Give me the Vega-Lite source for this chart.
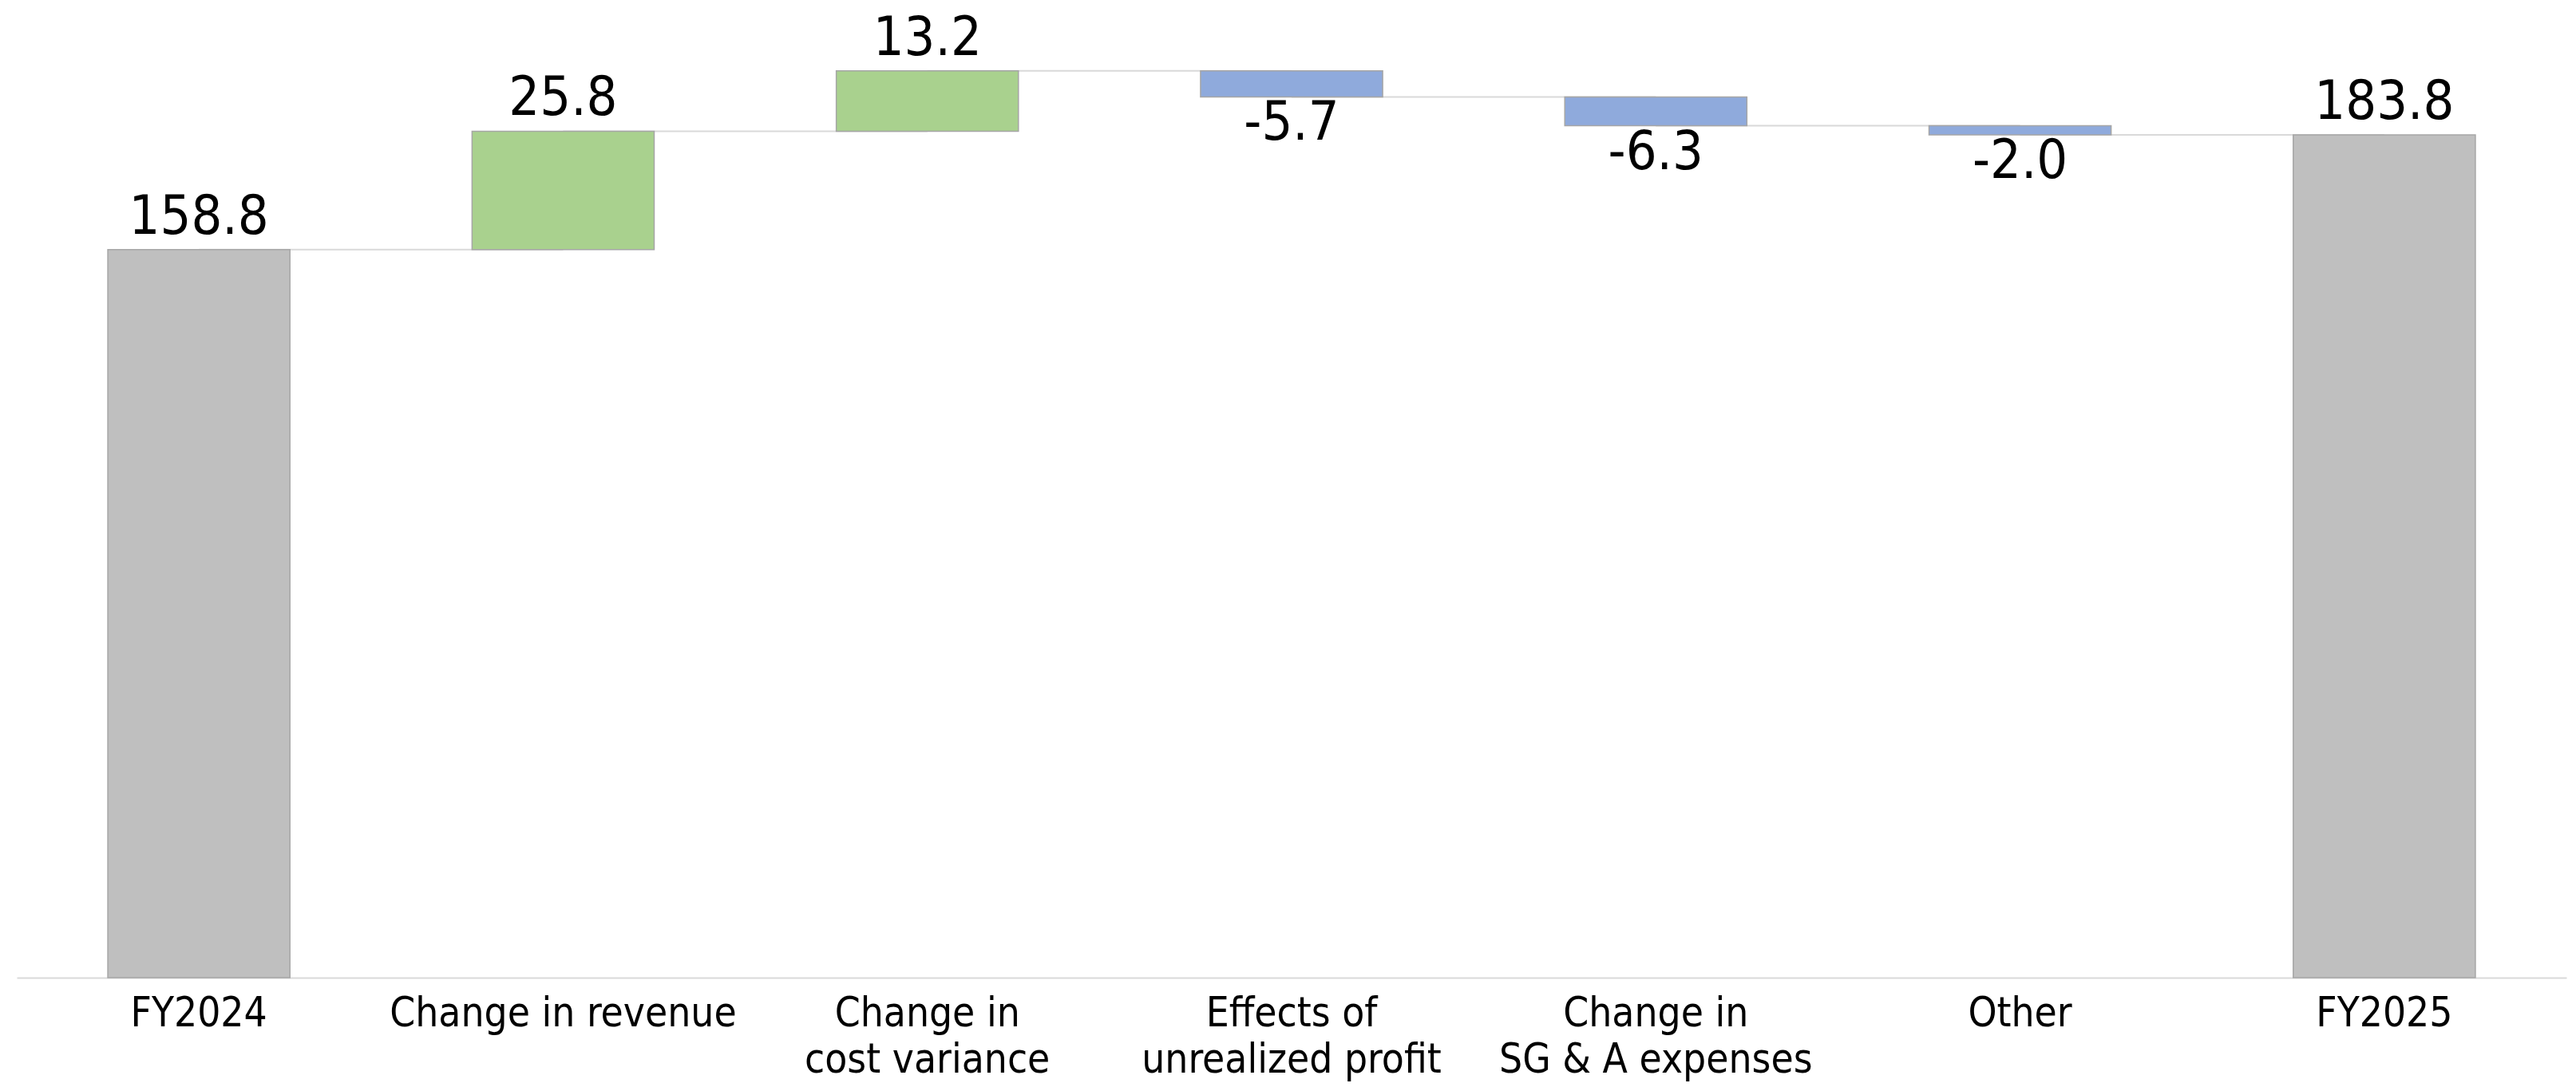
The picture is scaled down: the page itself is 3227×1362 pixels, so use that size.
{
  "$schema": "https://vega.github.io/schema/vega-lite/v6.json",
  "width": 3194,
  "height": 1149,
  "autosize": {"type": "none"},
  "padding": {"left": 21, "top": 76, "right": 12, "bottom": 137},
  "background": "#ffffff",
  "config": {
    "view": {"stroke": null},
    "locale": {
      "number": {"decimal": ".", "thousands": ",", "grouping": [3], "currency": ["", ""], "minus": "-"}
    },
    "font": "'DejaVu Sans Condensed', 'Noto Sans', sans-serif"
  },
  "data": {
    "values": [
      {"step": "FY2024", "kind": "total", "amount": 158.8, "low": 0, "high": 158.8, "next": "Change in revenue", "level": 158.8},
      {"step": "Change in revenue", "kind": "up", "amount": 25.8, "low": 158.8, "high": 184.6, "next": "Change in|cost variance", "level": 184.6},
      {"step": "Change in|cost variance", "kind": "up", "amount": 13.2, "low": 184.6, "high": 197.8, "next": "Effects of|unrealized profit", "level": 197.8},
      {"step": "Effects of|unrealized profit", "kind": "down", "amount": -5.7, "low": 192.1, "high": 197.8, "next": "Change in|SG & A expenses", "level": 192.1},
      {"step": "Change in|SG & A expenses", "kind": "down", "amount": -6.3, "low": 185.8, "high": 192.1, "next": "Other", "level": 185.8},
      {"step": "Other", "kind": "down", "amount": -2.0, "low": 183.8, "high": 185.8, "next": "FY2025", "level": 183.8},
      {"step": "FY2025", "kind": "total", "amount": 183.8, "low": 0, "high": 183.8, "next": null, "level": null}
    ]
  },
  "encoding": {
    "x": {
      "field": "step",
      "type": "nominal",
      "sort": null,
      "scale": {"paddingInner": 0.5, "paddingOuter": 0.25},
      "axis": {
        "title": null,
        "ticks": false,
        "tickSize": 0,
        "labelAngle": 0,
        "labelExpr": "split(datum.label, '|')",
        "labelFontSize": 51,
        "labelColor": "#000000",
        "labelBaseline": "alphabetic",
        "labelPadding": 60,
        "labelLineHeight": 58,
        "labelLimit": 0,
        "domainColor": "#d9d9d9",
        "domainWidth": 2,
        "grid": false
      }
    }
  },
  "layer": [
    {
      "transform": [{"filter": "datum.next != null"}],
      "mark": {"type": "rule", "color": "#d9d9d9", "strokeWidth": 2},
      "encoding": {
        "x2": {"field": "next"},
        "y": {"field": "level", "type": "quantitative", "scale": {"domain": [0, 200], "nice": false, "zero": true}, "axis": null}
      }
    },
    {
      "mark": {"type": "bar", "stroke": "#a6a6a6", "strokeWidth": 1.5},
      "encoding": {
        "y": {"field": "low", "type": "quantitative"},
        "y2": {"field": "high"},
        "color": {
          "field": "kind",
          "type": "nominal",
          "scale": {"domain": ["total", "up", "down"], "range": ["#bfbfbf", "#a9d18e", "#8faadc"]},
          "legend": null
        }
      }
    },
    {
      "transform": [{"filter": "datum.kind != 'down'"}],
      "mark": {"type": "text", "fontSize": 68, "color": "#000000", "baseline": "alphabetic", "dy": -20},
      "encoding": {
        "y": {"field": "high", "type": "quantitative"},
        "text": {"field": "amount", "type": "quantitative", "format": ".1f"}
      }
    },
    {
      "transform": [{"filter": "datum.kind == 'down'"}],
      "mark": {"type": "text", "fontSize": 68, "color": "#000000", "baseline": "alphabetic", "dy": 54},
      "encoding": {
        "y": {"field": "low", "type": "quantitative"},
        "text": {"field": "amount", "type": "quantitative", "format": ".1f"}
      }
    }
  ]
}
